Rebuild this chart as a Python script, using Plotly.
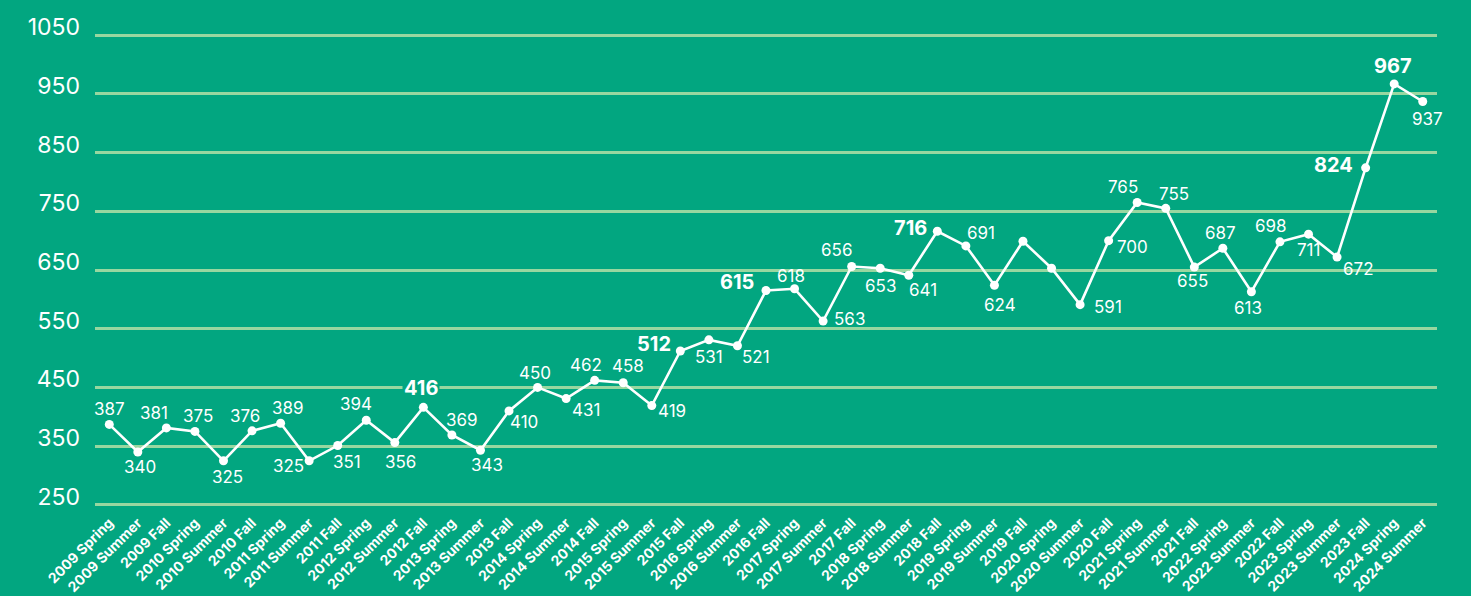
import plotly.graph_objects as go

categories = [
    "2009 Spring", "2009 Summer", "2009 Fall",
    "2010 Spring", "2010 Summer", "2010 Fall",
    "2011 Spring", "2011 Summer", "2011 Fall",
    "2012 Spring", "2012 Summer", "2012 Fall",
    "2013 Spring", "2013 Summer", "2013 Fall",
    "2014 Spring", "2014 Summer", "2014 Fall",
    "2015 Spring", "2015 Summer", "2015 Fall",
    "2016 Spring", "2016 Summer", "2016 Fall",
    "2017 Spring", "2017 Summer", "2017 Fall",
    "2018 Spring", "2018 Summer", "2018 Fall",
    "2019 Spring", "2019 Summer", "2019 Fall",
    "2020 Spring", "2020 Summer", "2020 Fall",
    "2021 Spring", "2021 Summer", "2021 Fall",
    "2022 Spring", "2022 Summer", "2022 Fall",
    "2023 Spring", "2023 Summer", "2023 Fall",
    "2024 Spring", "2024 Summer",
]

values = [
    387, 340, 381,
    375, 325, 376,
    389, 325, 351,
    394, 356, 416,
    369, 343, 410,
    450, 431, 462,
    458, 419, 512,
    531, 521, 615,
    618, 563, 656,
    653, 641, 716,
    691, 624, 699,
    653, 591, 700,
    765, 755, 655,
    687, 613, 698,
    711, 672, 824,
    967, 937,
]

# which points carry a visible label, and which are highlighted in bold
labelled = [True] * len(values)
labelled[32] = False
labelled[33] = False
bold = {11, 20, 23, 29, 44, 45}
masked = {11}  # label drawn over a gridline with a background patch

y_ticks = [250, 350, 450, 550, 650, 750, 850, 950, 1050]

# label offsets (px) relative to each point: (dx, dy) with dy negative = above
offsets = [
    (0, -15), (2, 15), (-12, -15),
    (3, -15), (4, 16), (-7, -15),
    (7, -15), (-21, 5), (9, 16),
    (-10, -16), (6, 19), (-2, -19),
    (10, -15), (7, 15), (15, 11),
    (-3, -14), (20, 11), (-9, -15),
    (5, -17), (20, 5), (-26, -7),
    (0, 17), (19, 11), (-29, -9),
    (-4, -13), (26, -2), (-15, -16),
    (0, 18), (14, 15), (-27, -3),
    (15, -13), (6, 20), (0, 0),
    (0, 0), (28, 2), (24, 6),
    (-14, -15), (8, -14), (-2, 14),
    (-2, -15), (-3, 16), (-9, -16),
    (0, 16), (21, 12), (-32, -3),
    (-1, -18), (5, 17),
]

BG = "#02A680"
GRID = "#98D7A0"
FONT = "Inter, Liberation Sans, Arial, sans-serif"

fig = go.Figure()
fig.add_trace(go.Scatter(
    x=categories, y=values, mode="lines+markers",
    line=dict(color="white", width=2.6),
    marker=dict(color="white", size=9),
    hoverinfo="x+y", showlegend=False,
))

annotations = []
for i, (c, v) in enumerate(zip(categories, values)):
    if not labelled[i]:
        continue
    dx, dy = offsets[i]
    is_bold = i in bold
    annotations.append(dict(
        x=c, y=v, text=f"<b>{v}</b>" if is_bold else str(v),
        showarrow=False, xshift=dx, yshift=-dy,
        font=dict(family=FONT, size=20 if is_bold else 17, color="white"),
        bgcolor=BG if i in masked else None,
        borderpad=1,
    ))

fig.update_layout(
    width=1471, height=596,
    paper_bgcolor=BG, plot_bgcolor=BG,
    margin=dict(l=95, r=34, t=34, b=90),
    annotations=annotations,
    xaxis=dict(
        type="category", range=[-0.5, len(categories) - 0.5],
        showgrid=False, zeroline=False, showline=False, ticks="",
        tickangle=-45, automargin=False, ticklabelstandoff=5,
        tickfont=dict(family=FONT, size=14, color="white", weight=700),
    ),
    yaxis=dict(
        range=[248, 1052], tickvals=y_ticks,
        ticktext=[str(t) for t in y_ticks],
        showgrid=True, gridcolor=GRID, gridwidth=2.5,
        zeroline=False, showline=False, ticks="", automargin=False,
        ticklabelstandoff=14, ticklabelshift=-8,
        tickfont=dict(family=FONT, size=23, color="white"),
    ),
)

fig.write_html(
    "out.html",
    config={"displayModeBar": False},
    post_script="document.body.style.margin='0';document.body.style.background='#02A680';",
)
